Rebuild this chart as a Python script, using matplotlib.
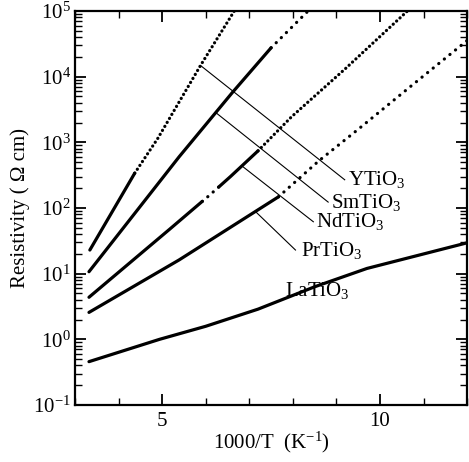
import numpy as np
import matplotlib
matplotlib.use("Agg")
import matplotlib.pyplot as plt
from matplotlib.ticker import MultipleLocator, LogLocator, LogFormatterMathtext, NullFormatter

plt.rcParams['font.family'] = ['Liberation Serif', 'DejaVu Serif']
plt.rcParams['mathtext.fontset'] = 'custom'
plt.rcParams['mathtext.rm'] = 'Liberation Serif'
plt.rcParams['mathtext.it'] = 'Liberation Serif:italic'
plt.rcParams['mathtext.default'] = 'regular'

# ---- data (1000/T, resistivity in Ohm cm) ----
# YTiO3
y_solid_x = [3.34, 4.37]
y_solid_r = [22.9, 339.0]
y_dot_x = [4.37, 4.90, 5.88, 6.57, 6.75]
y_dot_r = [339.0, 1150.0, 14800.0, 81000.0, 126000.0]

# SmTiO3
sm_solid_x = [3.32, 5.39, 6.60, 7.50]
sm_solid_r = [10.7, 603.0, 5620.0, 27500.0]
sm_dot_x = [7.50, 8.35, 8.55]
sm_dot_r = [27500.0, 100000.0, 130000.0]

# NdTiO3
nd_solid1_x = [3.32, 5.16, 5.92]
nd_solid1_r = [4.37, 46.8, 126.0]
nd_dot1_x = [5.92, 5.96, 6.30]
nd_dot1_r = [126.0, 132.0, 209.0]
nd_solid2_x = [6.30, 6.57, 7.20]
nd_solid2_r = [209.0, 302.0, 741.0]
nd_dot2_x = [7.20, 7.97, 9.22, 10.63, 10.85]
nd_dot2_r = [741.0, 2450.0, 13500.0, 100000.0, 135000.0]

# PrTiO3
pr_solid_x = [3.32, 5.39, 7.67]
pr_solid_r = [2.57, 16.2, 148.0]
pr_dot_x = [7.67, 8.60, 9.50, 10.70, 12.00]
pr_dot_r = [148.0, 525.0, 1580.0, 7080.0, 35500.0]

# LaTiO3
la_x = [3.32, 4.94, 6.00, 7.20, 8.50, 9.70, 12.00]
la_r = [0.457, 1.00, 1.58, 2.88, 6.31, 12.0, 29.5]

labels = ['YTiO$_3$', 'SmTiO$_3$', 'NdTiO$_3$', 'PrTiO$_3$']
leader_start_x = [5.88, 6.23, 6.83, 7.14]
label_x = [9.26, 8.88, 8.54, 8.19]
label_r = [269.0, 123.0, 61.7, 22.9]
leader_end_x = [9.19, 8.81, 8.47, 8.06]
la_label_x = 7.83
la_label_r = 5.6

fig = plt.figure(figsize=(4.69, 4.62), dpi=100)
ax = fig.add_axes([0.160, 0.1234, 0.836, 0.8528])

solid_kw = dict(color='black', lw=2.3, solid_capstyle='round')
dot_kw = dict(color='black', lw=2.3, linestyle=(0, (0.05, 2.2)), dash_capstyle='round')
dense_kw = dict(color='black', lw=2.3, linestyle=(0, (0.05, 1.4)), dash_capstyle='round')

ax.plot(y_solid_x, y_solid_r, **solid_kw)
ax.plot(y_dot_x, y_dot_r, **dense_kw)
ax.plot(sm_solid_x, sm_solid_r, **solid_kw)
ax.plot(sm_dot_x, sm_dot_r, **dot_kw)
ax.plot(nd_solid1_x, nd_solid1_r, **solid_kw)
ax.plot(nd_dot1_x, nd_dot1_r, **dot_kw)
ax.plot(nd_solid2_x, nd_solid2_r, **solid_kw)
ax.plot(nd_dot2_x, nd_dot2_r, **dense_kw)
ax.plot(pr_solid_x, pr_solid_r, **solid_kw)
ax.plot(pr_dot_x, pr_dot_r, **dot_kw)
ax.plot(la_x, la_r, **solid_kw)

curves = [
    (y_solid_x + y_dot_x, y_solid_r + y_dot_r),
    (sm_solid_x + sm_dot_x, sm_solid_r + sm_dot_r),
    (nd_solid1_x + nd_dot1_x + nd_solid2_x + nd_dot2_x, nd_solid1_r + nd_dot1_r + nd_solid2_r + nd_dot2_r),
    (pr_solid_x + pr_dot_x, pr_solid_r + pr_dot_r),
]
for (cx, cr), lab, sx, lx, lr, ex in zip(curves, labels, leader_start_x, label_x, label_r, leader_end_x):
    order = np.argsort(cx)
    sy = 10 ** np.interp(sx, np.array(cx)[order], np.log10(np.array(cr)[order]))
    ax.plot([sx, ex], [sy, lr], color='black', lw=0.8)
    ax.text(lx, lr, lab, fontsize=15, ha='left', va='center')

ax.text(la_label_x, la_label_r, 'LaTiO$_3$', fontsize=15, ha='left', va='center')

ax.set_yscale('log')
ax.set_xlim(3, 12)
ax.set_ylim(0.1, 1e5)

ax.xaxis.set_major_locator(MultipleLocator(5))
ax.xaxis.set_minor_locator(MultipleLocator(1))
ax.yaxis.set_major_locator(LogLocator(base=10, numticks=10))
ax.yaxis.set_minor_locator(LogLocator(base=10, subs=np.arange(2, 10), numticks=20))
ax.yaxis.set_major_formatter(LogFormatterMathtext())
ax.yaxis.set_minor_formatter(NullFormatter())

ax.tick_params(which='both', direction='in', top=True, right=True, labelsize=15)
ax.tick_params(which='major', length=8, width=1.3)
ax.tick_params(which='minor', length=5, width=1.0)
ax.tick_params(axis='x', which='major', pad=5)
ax.tick_params(axis='y', which='major', pad=3)

for s in ax.spines.values():
    s.set_linewidth(1.6)

ax.set_xlabel('1000/T  (K$^{-1}$)', fontsize=15, labelpad=-1)
ax.set_ylabel('Resistivity ( \u03a9 cm)', fontsize=15, labelpad=2)

fig.savefig('out.png', dpi=100)
